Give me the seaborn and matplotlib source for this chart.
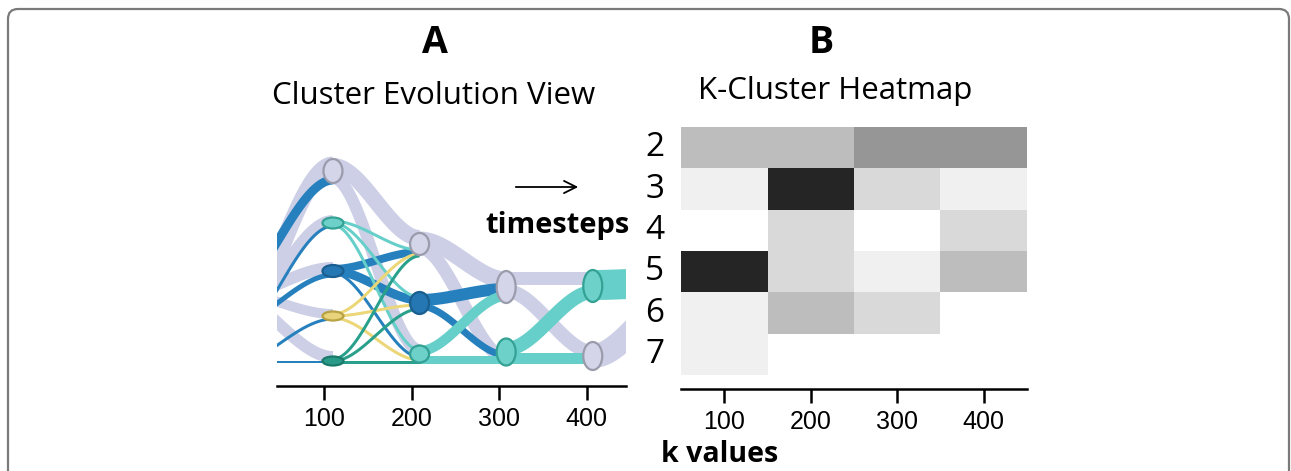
import numpy as np
import pandas as pd
import matplotlib
matplotlib.use("Agg")
import matplotlib.pyplot as plt
import seaborn as sns
from matplotlib.colors import ListedColormap
from matplotlib.patches import Ellipse, FancyBboxPatch
from matplotlib.transforms import IdentityTransform

# ---------------- data ----------------
# panel A: cluster evolution (k on x, vertical level of the cluster on y)
k_ticks = [100, 200, 300, 400]

# nodes: timestep, level, size (height), cluster colour group
node_k = [110, 110, 110, 110, 110, 209, 209, 209, 308, 308, 407, 407]
node_level = [215, 163, 115, 70, 25, 142, 83, 32, 99, 34, 100, 30]
node_size = [24, 11, 12, 9, 9, 22, 22, 17, 32, 27, 32, 28]
node_group = ["lav", "teal", "blue", "yellow", "dteal",
              "lav", "blue", "teal", "lav", "teal", "teal", "lav"]

# flows between timesteps (the first and last columns lie outside the view)
flow_k0 = [-15, -15, -15, -15, -15, -15, -15, -15, -15, -15,
           110, 110, 110, 110, 110, 110, 110, 110, 110, 110, 110, 110, 110, 110,
           209, 209, 209, 209, 209, 209,
           308, 308, 308, 308,
           407, 407]
flow_y0 = [41, 86, 56, 36, 86, 56, 96, 16, 96, 24,
           220, 208, 165, 163, 161, 117, 115, 113, 72, 70, 68, 27, 25, 24,
           146, 138, 86, 80, 35, 26,
           108, 95, 37, 28,
           101, 30]
flow_k1 = [110, 110, 110, 110, 110, 110, 110, 110, 110, 110,
           209, 209, 209, 209, 209, 209, 209, 209, 209, 209, 209, 209, 209, 209,
           308, 308, 308, 308, 308, 308,
           407, 407, 407, 407,
           510, 510]
flow_y1 = [221, 206, 165, 160, 118, 111, 72, 67, 29, 24,
           148, 36, 136, 89, 36, 134, 86, 29, 132, 81, 26, 130, 77, 24,
           106, 28, 97, 31, 90, 26,
           108, 34, 94, 28,
           104, 91]
flow_size = [17, 9, 12, 3, 12, 5, 10, 3, 12, 2,
             16, 12, 3, 3, 3, 8, 9, 3, 3, 3, 3, 3, 3, 3,
             17, 13, 12, 7, 10, 8,
             13, 14, 14, 11,
             30, 24]
flow_group = ["lav", "blue", "lav", "blue", "lav", "blue", "lav", "blue", "lav", "blue",
              "lav", "lav", "teal", "teal", "teal", "blue", "blue", "blue",
              "yellow", "yellow", "yellow", "dteal", "dteal", "dteal",
              "lav", "lav", "blue", "blue", "teal", "teal",
              "lav", "lav", "teal", "teal",
              "teal", "lav"]

# panel B: k-cluster heatmap
heat_cols = [100, 200, 300, 400]
heat_rows = [2, 3, 4, 5, 6, 7]
heat_vals = [[3, 3, 4, 4],
             [1, 7, 2, 1],
             [0, 2, 0, 2],
             [7, 2, 1, 3],
             [1, 3, 2, np.nan],
             [1, np.nan, np.nan, np.nan]]

# ---------------- style ----------------
flow_color = {"lav": "#cdcfe6", "blue": "#2680bd", "teal": "#66cfc9",
              "yellow": "#ebd678", "dteal": "#28a08c"}
node_face = {"lav": "#d4d5e9", "blue": "#2477b3", "teal": "#6dd1c9",
             "yellow": "#e9d47c", "dteal": "#2a9a88"}
node_edge = {"lav": "#9a9bab", "blue": "#1a5f8f", "teal": "#33a194",
             "yellow": "#b8a243", "dteal": "#1b7a6a"}
greys = ["#ffffff", "#f0f0f0", "#d9d9d9", "#bdbdbd",
         "#969696", "#737373", "#525252", "#252525"]

sns.set_theme(style="white")
plt.rcParams["font.family"] = ["Open Sans", "DejaVu Sans"]
narrow = ["Liberation Sans Narrow", "Liberation Sans", "DejaVu Sans"]

W, H = 1291, 471
fig = plt.figure(figsize=(W / 100, H / 100), dpi=100)

# ---------------- panel A ----------------
axA = fig.add_axes([277 / W, 1 - 386 / H, 349 / W, 236 / H])
px_per_k = 0.875

order = [i for i in range(len(flow_size)) if flow_group[i] == "lav"] + \
        [i for i in range(len(flow_size)) if flow_group[i] != "lav" and flow_size[i] > 4] + \
        [i for i in range(len(flow_size)) if flow_group[i] != "lav" and flow_size[i] <= 4]
for i in order:
    x = np.linspace(flow_k0[i], flow_k1[i], 80)
    u = (x - flow_k0[i]) / (flow_k1[i] - flow_k0[i])
    y = flow_y0[i] + (flow_y1[i] - flow_y0[i]) * (3 * u ** 2 - 2 * u ** 3)
    axA.plot(x, y, color=flow_color[flow_group[i]], lw=flow_size[i] * 0.72,
             solid_capstyle="butt", zorder=2)

for k, lvl, s, g in zip(node_k, node_level, node_size, node_group):
    wk = (21 if s < 14 else 19) / px_per_k
    axA.add_patch(Ellipse((k, lvl), wk, s, facecolor=node_face[g],
                          edgecolor=node_edge[g], lw=1.6, zorder=5))

axA.set_xlim(46, 445)
axA.set_ylim(0, 236)
axA.set_xticks(k_ticks)
axA.set_xticklabels([str(t) for t in k_ticks], family=narrow, fontsize=18)
axA.set_yticks([])
for sp in ["top", "right", "left"]:
    axA.spines[sp].set_visible(False)
axA.spines["bottom"].set_color("black")
axA.spines["bottom"].set_linewidth(1.8)
axA.tick_params(axis="x", bottom=True, length=10, width=1.8, color="black",
                direction="out", pad=5, labelcolor="black")
axA.patch.set_alpha(0)

# ---------------- panel B ----------------
axB = fig.add_axes([681 / W, 1 - 375 / H, 346 / W, 248 / H])
df = pd.DataFrame(heat_vals, index=heat_rows, columns=heat_cols)
sns.heatmap(df, ax=axB, cmap=ListedColormap(greys), vmin=-0.5, vmax=7.5,
            cbar=False, linewidths=0)
axB.spines["bottom"].set_visible(True)
axB.spines["bottom"].set_position(("outward", 10))
axB.spines["bottom"].set_color("black")
axB.spines["bottom"].set_linewidth(1.8)
axB.set_xlabel("")
axB.set_ylabel("")
axB.set_xticklabels([str(c) for c in heat_cols], family=narrow, fontsize=18, rotation=0)
axB.set_yticklabels([str(r) for r in heat_rows], fontsize=24, rotation=0)
axB.tick_params(axis="x", bottom=True, length=10, width=1.8, color="black",
                direction="out", pad=5, labelcolor="black")
axB.tick_params(axis="y", left=False, length=0, pad=12, labelcolor="black")

# ---------------- texts ----------------
fig.text(435 / W, 1 - 43 / H, "A", ha="center", va="center", fontsize=27,
         fontweight="bold", color="black")
fig.text(434 / W, 1 - 96 / H, "Cluster Evolution View", ha="center", va="center",
         fontsize=22.5, color="black")
fig.text(821 / W, 1 - 43 / H, "B", ha="center", va="center", fontsize=27,
         fontweight="bold", color="black")
fig.text(835 / W, 1 - 91 / H, "K-Cluster Heatmap", ha="center", va="center",
         fontsize=22.5, color="black")
fig.text(557 / W, 1 - 225 / H, "timesteps", ha="center", va="center",
         fontsize=21, fontweight="bold", color="black")
fig.text(720 / W, 1 - 454 / H, "k values", ha="center", va="center",
         fontsize=20.5, fontweight="bold", color="black")
axA.annotate("", xy=(581, H - 187), xytext=(513, H - 187), xycoords="figure pixels",
             textcoords="figure pixels",
             arrowprops=dict(arrowstyle="->", lw=1.3, color="black", mutation_scale=22))

# rounded frame around the figure (open at the bottom)
frame = FancyBboxPatch((8, -40), 1281, H - 9 + 40,
                       boxstyle="round,pad=0,rounding_size=10",
                       transform=IdentityTransform(), fill=False,
                       edgecolor="#7a7a7a", lw=1.6)
fig.add_artist(frame)

fig.savefig("out.png", dpi=100)
